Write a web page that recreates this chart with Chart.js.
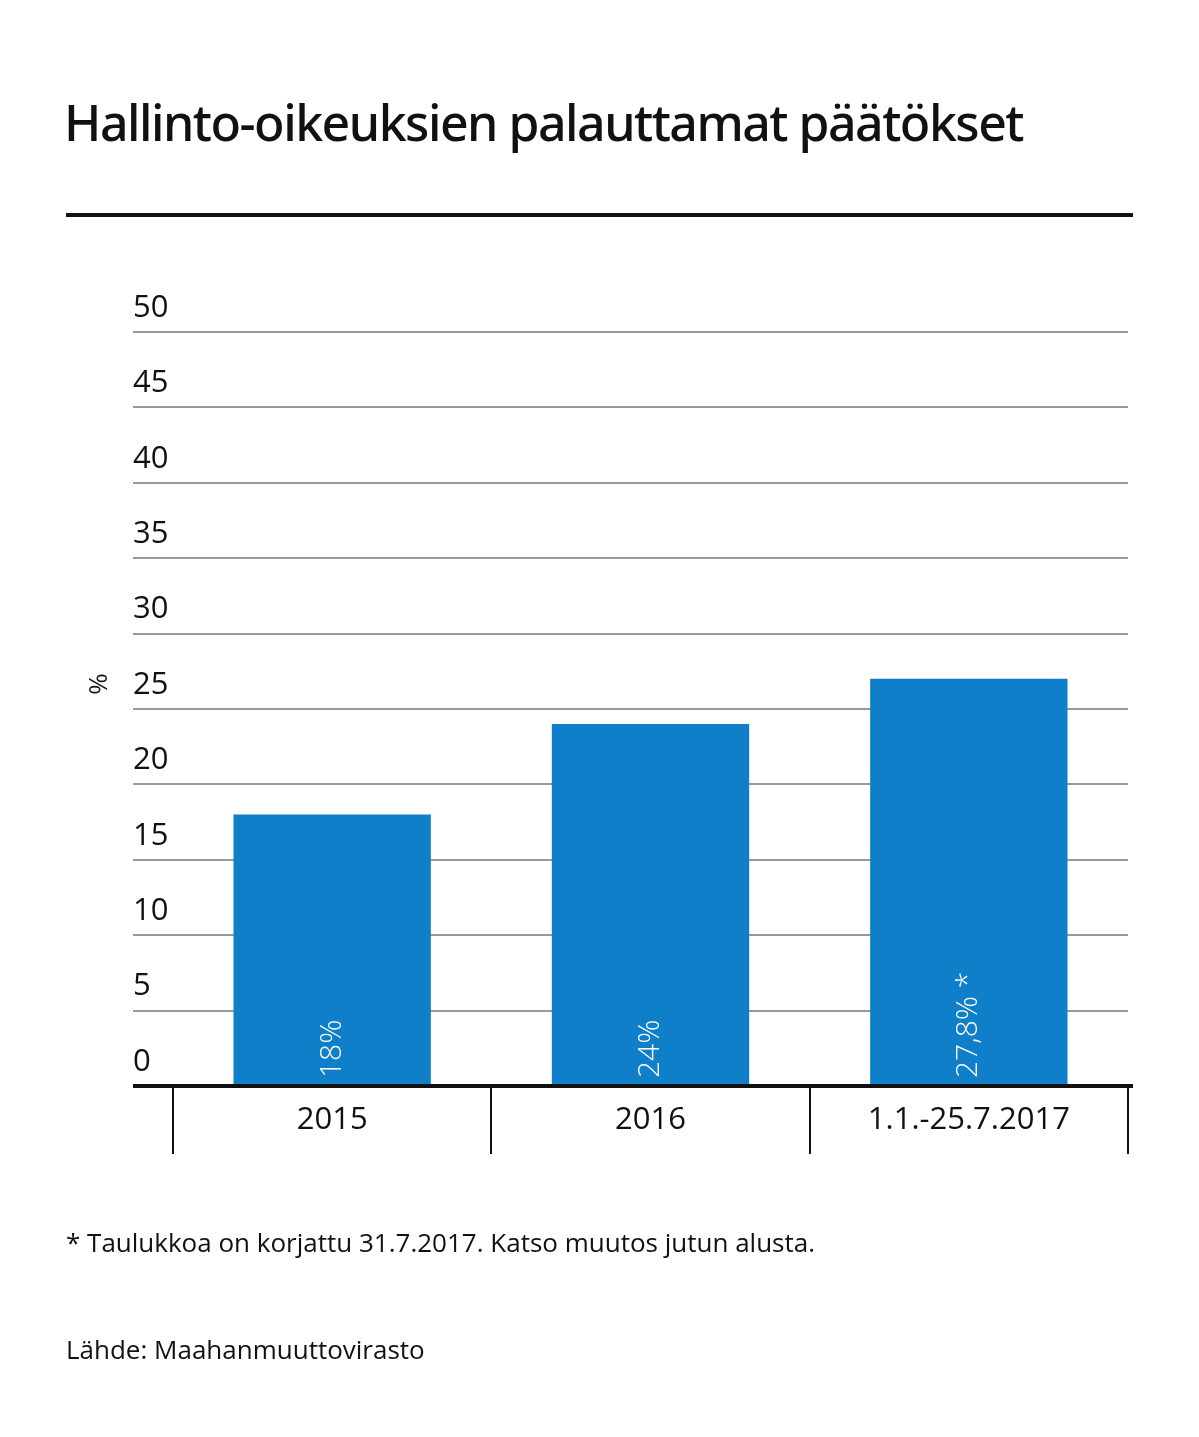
<!DOCTYPE html>
<html><head><meta charset="utf-8">
<script src="https://cdn.jsdelivr.net/npm/chart.js@4/dist/chart.umd.min.js"></script>
<style>
html,body{margin:0;padding:0;background:#fff;width:1199px;height:1437px;overflow:hidden;font-family:"Open Sans",sans-serif;}
#wrap{position:absolute;left:0;top:0;width:1199px;height:1437px;}
.t{position:absolute;color:#111;white-space:nowrap;}
#title{left:64px;top:88px;font-size:50px;font-weight:500;letter-spacing:-1.5px;font-family:"Noto Sans",sans-serif;}
#rule{position:absolute;left:66px;top:213px;width:1067px;height:4px;background:#111;}
#note{left:66px;top:1224px;font-size:26px;}
#src{left:66px;top:1331px;font-size:26px;}
</style></head><body>
<div id="wrap"><canvas id="c" width="1199" height="1437"></canvas></div>
<div class="t" id="title">Hallinto-oikeuksien palauttamat päätökset</div>
<div id="rule"></div>
<div class="t" id="note">* Taulukkoa on korjattu 31.7.2017. Katso muutos jutun alusta.</div>
<div class="t" id="src">Lähde: Maahanmuuttovirasto</div>
<script>
const categories = ["2015", "2016", "1.1.-25.7.2017"];
const values = [18, 24, 27];
const barLabels = ["18%", "24%", "27,8% *"];
const yTicks = [0,5,10,15,20,25,30,35,40,45,50];

const overlay = {
  id:'overlay',
  afterDatasetsDraw(chart){
    const ctx=chart.ctx, meta=chart.getDatasetMeta(0), y=chart.scales.y;
    ctx.save();
    ctx.fillStyle='#fff'; ctx.font='300 30px "Open Sans"'; ctx.textAlign='left'; ctx.textBaseline='middle';
    meta.data.forEach((b,i)=>{
      ctx.save(); ctx.translate(b.x, y.getPixelForValue(0)-8); ctx.rotate(-Math.PI/2);
      ctx.fillText(barLabels[i],0,0); ctx.restore();
    });
    // zero line
    ctx.strokeStyle='#111'; ctx.lineWidth=4;
    ctx.beginPath(); const z=y.getPixelForValue(0); ctx.moveTo(133,z); ctx.lineTo(1133,z); ctx.stroke();
    // % label
    ctx.fillStyle='#111'; ctx.font='26px "Open Sans"'; ctx.textAlign='center';
    ctx.save(); ctx.translate(96,684); ctx.rotate(Math.PI/2); ctx.fillText('%',0,0); ctx.restore();
    ctx.restore();
  }
};

new Chart(document.getElementById('c'),{
  type:'bar',
  data:{labels:categories,datasets:[{data:values,backgroundColor:'#0f7fca',categoryPercentage:0.62,barPercentage:1}]},
  options:{
    responsive:false,animation:false,
    layout:{padding:{left:133,right:71,top:332,bottom:281}},
    plugins:{legend:{display:false},tooltip:{enabled:false}},
    scales:{
      x:{grid:{offset:true,drawOnChartArea:false,tickLength:68,color:'#111',lineWidth:2},
         border:{display:false},
         ticks:{padding:-52,color:'#111',font:{size:31,family:'"Open Sans"'}},
         afterFit(s){s.height=70;}},
      y:{min:0,max:50,afterBuildTicks(s){s.ticks=yTicks.map(v=>({value:v}));},
         grid:{color:'#999',lineWidth:2,tickLength:40},
         border:{display:false},
         ticks:{padding:-40,crossAlign:'far',labelOffset:-24,color:'#111',font:{size:31,family:'"Open Sans"'}},
         afterFit(s){s.width=40;}}
    }
  },
  plugins:[overlay]
});
</script>
</body></html>
